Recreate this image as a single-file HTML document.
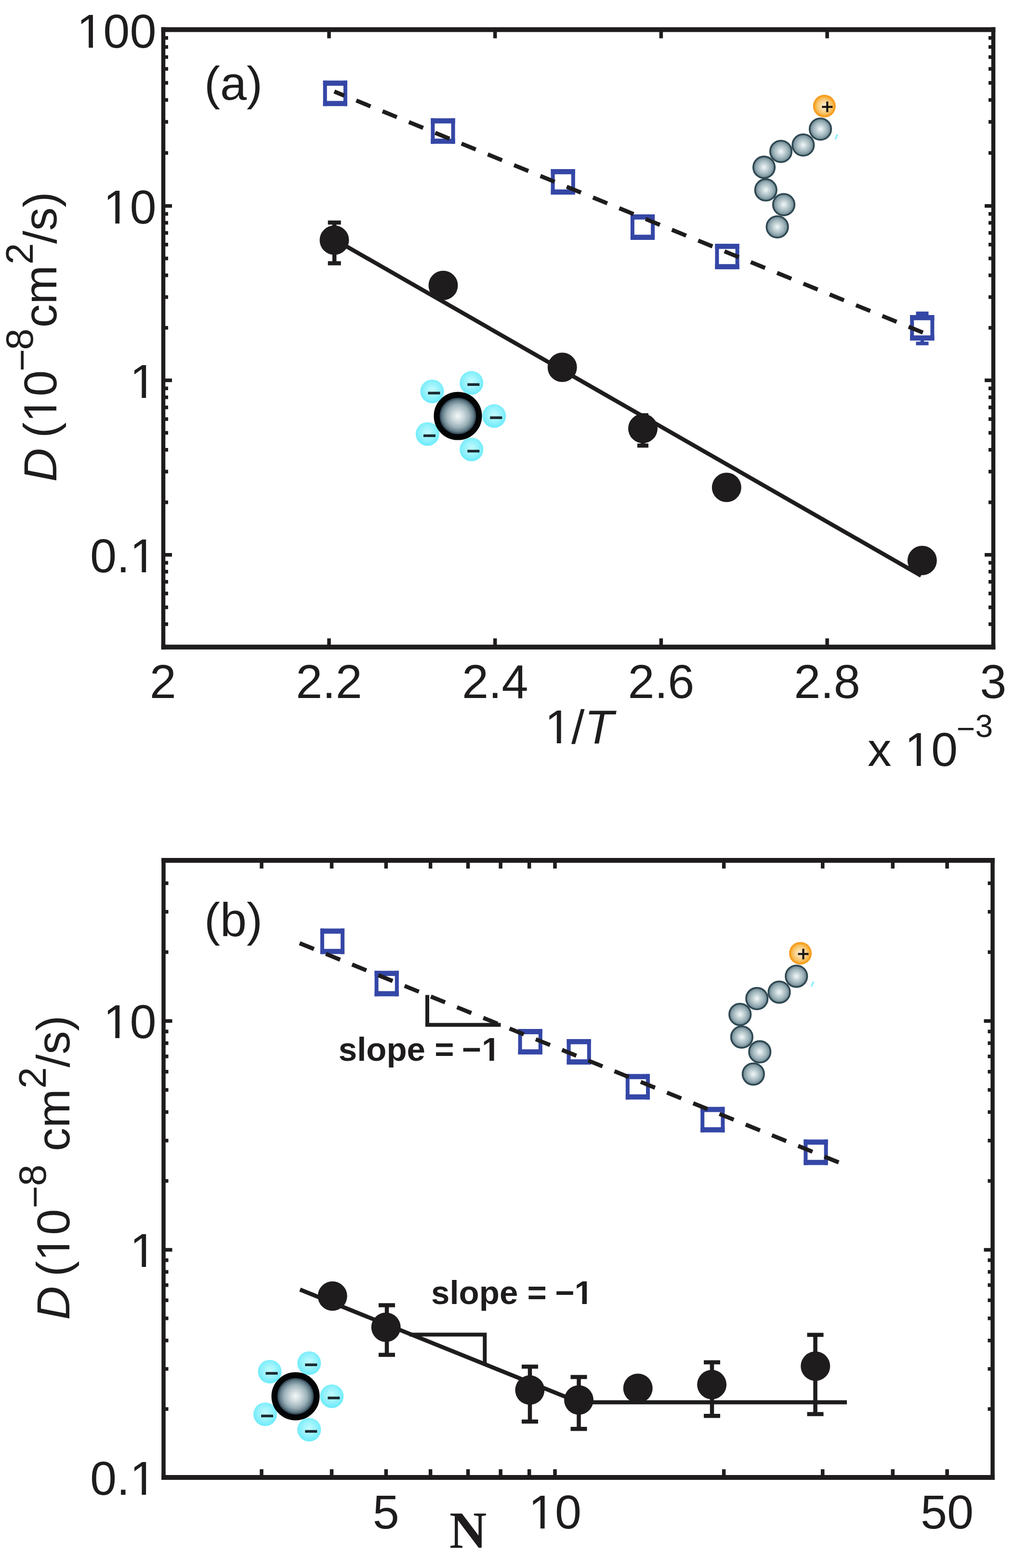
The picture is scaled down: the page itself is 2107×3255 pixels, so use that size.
<!DOCTYPE html>
<html><head><meta charset="utf-8"><title>Diffusion coefficient plots</title>
<style>html,body{margin:0;padding:0;background:#fff;}svg{display:block;}</style>
</head><body>
<svg width="2107" height="3255" viewBox="0 0 2107 3255">
<defs>
<radialGradient id="gBead" cx="50%" cy="50%" r="50%">
  <stop offset="0" stop-color="#f3f8f8"/>
  <stop offset="0.3" stop-color="#cbd9dc"/>
  <stop offset="0.65" stop-color="#9fb4bb"/>
  <stop offset="0.88" stop-color="#7b939d"/>
  <stop offset="1" stop-color="#5a7380"/>
</radialGradient>
<radialGradient id="gOrange" cx="50%" cy="50%" r="50%">
  <stop offset="0" stop-color="#fdf0d8"/>
  <stop offset="0.45" stop-color="#f9d490"/>
  <stop offset="0.72" stop-color="#f8bd58"/>
  <stop offset="0.88" stop-color="#f7a224"/>
  <stop offset="1" stop-color="#f69512"/>
</radialGradient>
<radialGradient id="gSphere" cx="50%" cy="50%" r="50%">
  <stop offset="0" stop-color="#f6f9f9"/>
  <stop offset="0.3" stop-color="#c8d5d9"/>
  <stop offset="0.55" stop-color="#9ab0b8"/>
  <stop offset="0.75" stop-color="#617a86"/>
  <stop offset="0.88" stop-color="#1e3341"/>
  <stop offset="1" stop-color="#040a10"/>
</radialGradient>
<radialGradient id="gCyan" cx="50%" cy="45%" r="50%">
  <stop offset="0" stop-color="#c4fbff"/>
  <stop offset="0.6" stop-color="#97f2fb"/>
  <stop offset="1" stop-color="#72ecfb"/>
</radialGradient>
</defs>
<rect width="2107" height="3255" fill="#ffffff"/>
<path d="M339 56.5V1348.2M2062 56.5V1348.2" stroke="#1e1c1d" stroke-width="8.5" fill="none"/>
<path d="M334.75 61.5H2066.25M334.75 1343.2H2066.25" stroke="#1e1c1d" stroke-width="10.0" fill="none"/>
<path d="M683 1343.2v-18M683 61.5v18M1027.7 1343.2v-18M1027.7 61.5v18M1372.4 1343.2v-18M1372.4 61.5v18M1717.1 1343.2v-18M1717.1 61.5v18" stroke="#1e1c1d" stroke-width="7.5" fill="none"/>
<path d="M339 1151.7h18M2062 1151.7h-18M339 789.6h18M2062 789.6h-18M339 427.5h18M2062 427.5h-18" stroke="#1e1c1d" stroke-width="7.5" fill="none"/>
<path d="M339 1295.79h10M2062 1295.79h-10M339 1260.7h10M2062 1260.7h-10M339 1232.03h10M2062 1232.03h-10M339 1207.79h10M2062 1207.79h-10M339 1186.79h10M2062 1186.79h-10M339 1168.27h10M2062 1168.27h-10M339 1042.7h10M2062 1042.7h-10M339 978.93h10M2062 978.93h-10M339 933.69h10M2062 933.69h-10M339 898.6h10M2062 898.6h-10M339 869.93h10M2062 869.93h-10M339 845.69h10M2062 845.69h-10M339 824.69h10M2062 824.69h-10M339 806.17h10M2062 806.17h-10M339 680.6h10M2062 680.6h-10M339 616.83h10M2062 616.83h-10M339 571.59h10M2062 571.59h-10M339 536.5h10M2062 536.5h-10M339 507.83h10M2062 507.83h-10M339 483.59h10M2062 483.59h-10M339 462.59h10M2062 462.59h-10M339 444.07h10M2062 444.07h-10M339 317.47h10M2062 317.47h-10M339 253.11h10M2062 253.11h-10M339 207.45h10M2062 207.45h-10M339 172.03h10M2062 172.03h-10M339 143.09h10M2062 143.09h-10M339 118.62h10M2062 118.62h-10M339 97.42h10M2062 97.42h-10M339 78.72h10M2062 78.72h-10" stroke="#1e1c1d" stroke-width="7.5" fill="none"/>
<text x="324.5" y="98.5" font-size="99" text-anchor="end" font-family='"Liberation Sans", Arial, Helvetica, sans-serif' fill="#1e1c1d">100</text>
<path d="M165.36 100H184.22V90.3H165.36ZM192.97 100H211.05V90.3H192.97Z" fill="#ffffff"/>
<text x="324.5" y="464" font-size="99" text-anchor="end" font-family='"Liberation Sans", Arial, Helvetica, sans-serif' fill="#1e1c1d">10</text>
<path d="M220.42 465.5H239.28V455.8H220.42ZM248.03 465.5H266.11V455.8H248.03Z" fill="#ffffff"/>
<text x="324.5" y="826.1" font-size="99" text-anchor="end" font-family='"Liberation Sans", Arial, Helvetica, sans-serif' fill="#1e1c1d">1</text>
<path d="M275.48 827.6H294.34V817.9H275.48ZM303.09 827.6H321.17V817.9H303.09Z" fill="#ffffff"/>
<text x="324.5" y="1188.2" font-size="99" text-anchor="end" font-family='"Liberation Sans", Arial, Helvetica, sans-serif' fill="#1e1c1d">0.1</text>
<path d="M275.48 1189.7H294.34V1180H275.48ZM303.09 1189.7H321.17V1180H303.09Z" fill="#ffffff"/>
<text x="338.3" y="1449" font-size="99" text-anchor="middle" font-family='"Liberation Sans", Arial, Helvetica, sans-serif' fill="#1e1c1d">2</text>
<text x="683" y="1449" font-size="99" text-anchor="middle" font-family='"Liberation Sans", Arial, Helvetica, sans-serif' fill="#1e1c1d">2.2</text>
<text x="1027.7" y="1449" font-size="99" text-anchor="middle" font-family='"Liberation Sans", Arial, Helvetica, sans-serif' fill="#1e1c1d">2.4</text>
<text x="1372.4" y="1449" font-size="99" text-anchor="middle" font-family='"Liberation Sans", Arial, Helvetica, sans-serif' fill="#1e1c1d">2.6</text>
<text x="1717.1" y="1449" font-size="99" text-anchor="middle" font-family='"Liberation Sans", Arial, Helvetica, sans-serif' fill="#1e1c1d">2.8</text>
<text x="2061.8" y="1449" font-size="99" text-anchor="middle" font-family='"Liberation Sans", Arial, Helvetica, sans-serif' fill="#1e1c1d">3</text>
<text x="1131" y="1543" font-size="99" font-family='"Liberation Sans", Arial, sans-serif' fill="#1e1c1d">1/<tspan font-style="italic">T</tspan></text>
<path d="M1137.04 1544.5H1155.9V1534.8H1137.04ZM1164.64 1544.5H1182.73V1534.8H1164.64Z" fill="#ffffff"/>
<text x="1801" y="1590" font-size="99" font-family='"Liberation Sans", Arial, Helvetica, sans-serif' fill="#1e1c1d">x 10</text>
<path d="M1884.05 1591.5H1902.9V1581.8H1884.05ZM1911.65 1591.5H1929.73V1581.8H1911.65Z" fill="#ffffff"/>
<text x="1985.8" y="1534.5" font-size="66" font-family='"Liberation Sans", Arial, Helvetica, sans-serif' fill="#1e1c1d">−</text>
<text x="2024.5" y="1530" font-size="66" font-family='"Liberation Sans", Arial, Helvetica, sans-serif' fill="#1e1c1d">3</text>
<text x="424" y="207.3" font-size="99" font-family='"Liberation Sans", Arial, Helvetica, sans-serif' fill="#1e1c1d">(a)</text>
<text transform="translate(116.5 0) rotate(-90)" x="-1000.28" y="0" font-size="97" font-style="italic" font-family='"Liberation Sans", Arial, sans-serif' fill="#1e1c1d">D</text>
<text transform="translate(116.5 0) rotate(-90)" x="-909.02" y="0" font-size="97" font-family='"Liberation Sans", Arial, sans-serif' fill="#1e1c1d">(10</text>
<path transform="translate(116.5 0) rotate(-90)" d="M-870.82 1.5H-852.32V-8.05H-870.82ZM-843.75 1.5H-826V-8.05H-843.75Z" fill="#ffffff"/>
<text transform="translate(116.5 0) rotate(-90)" x="-770.95" y="-44" font-size="80" font-family='"Liberation Sans", Arial, sans-serif' fill="#1e1c1d">−</text>
<text transform="translate(116.5 0) rotate(-90)" x="-726.48" y="-49" font-size="80" font-family='"Liberation Sans", Arial, sans-serif' fill="#1e1c1d">8</text>
<text transform="translate(116.5 0) rotate(-90)" x="-680.12" y="0" font-size="97" font-family='"Liberation Sans", Arial, sans-serif' fill="#1e1c1d">cm</text>
<text transform="translate(116.5 0) rotate(-90)" x="-549.02" y="-49" font-size="80" font-family='"Liberation Sans", Arial, sans-serif' fill="#1e1c1d">2</text>
<text transform="translate(116.5 0) rotate(-90)" x="-506" y="0" font-size="97" font-family='"Liberation Sans", Arial, sans-serif' fill="#1e1c1d">/s)</text>
<path d="M694.2 462V546.5M680.7 462h27M680.7 546.5h27" stroke="#1e1c1d" stroke-width="8.5" fill="none"/>
<path d="M1334.5 862V925M1323 862h23M1323 925h23" stroke="#1e1c1d" stroke-width="8.5" fill="none"/>
<path d="M1914.5 650.5V659.4M1914.5 701.6V713M1901.5 650.5h26M1901.5 713h26" stroke="#3547a6" stroke-width="7.5" fill="none"/>
<circle cx="694" cy="498.5" r="30.5" fill="#1e1c1d"/>
<circle cx="920" cy="592.5" r="30.5" fill="#1e1c1d"/>
<circle cx="1167.2" cy="762.5" r="30.5" fill="#1e1c1d"/>
<circle cx="1334.5" cy="889.5" r="30.5" fill="#1e1c1d"/>
<circle cx="1508.3" cy="1011.8" r="30.5" fill="#1e1c1d"/>
<circle cx="1914.3" cy="1163.5" r="30.5" fill="#1e1c1d"/>
<path d="M674.7 167.2V220.2M716.9 167.2V220.2" stroke="#3547a6" stroke-width="8.0" fill="none"/>
<path d="M670.7 172.6H720.9M670.7 214.8H720.9" stroke="#3547a6" stroke-width="10.8" fill="none"/>
<path d="M898.4 245.5V298.5M940.6 245.5V298.5" stroke="#3547a6" stroke-width="8.0" fill="none"/>
<path d="M894.4 250.9H944.6M894.4 293.1H944.6" stroke="#3547a6" stroke-width="10.8" fill="none"/>
<path d="M1147.6 351V404M1189.8 351V404" stroke="#3547a6" stroke-width="8.0" fill="none"/>
<path d="M1143.6 356.4H1193.8M1143.6 398.6H1193.8" stroke="#3547a6" stroke-width="10.8" fill="none"/>
<path d="M1312.9 445V498M1355.1 445V498" stroke="#3547a6" stroke-width="8.0" fill="none"/>
<path d="M1308.9 450.4H1359.1M1308.9 492.6H1359.1" stroke="#3547a6" stroke-width="10.8" fill="none"/>
<path d="M1488.4 506V559M1530.6 506V559" stroke="#3547a6" stroke-width="8.0" fill="none"/>
<path d="M1484.4 511.4H1534.6M1484.4 553.6H1534.6" stroke="#3547a6" stroke-width="10.8" fill="none"/>
<path d="M1893.2 654V707M1935.4 654V707" stroke="#3547a6" stroke-width="8.0" fill="none"/>
<path d="M1889.2 659.4H1939.4M1889.2 701.6H1939.4" stroke="#3547a6" stroke-width="10.8" fill="none"/>
<path d="M694 190L1916 690.5" stroke="#1e1c1d" stroke-width="8.5" fill="none" stroke-dasharray="32 27" stroke-dashoffset="9.7"/>
<path d="M694 497L1912 1195" stroke="#1e1c1d" stroke-width="8.5" fill="none"/>
<circle cx="1613.6" cy="471" r="22.3" fill="url(#gBead)" stroke="#2f4852" stroke-width="3.6"/>
<circle cx="1627" cy="424.8" r="22.3" fill="url(#gBead)" stroke="#2f4852" stroke-width="3.6"/>
<circle cx="1589.7" cy="394.2" r="22.3" fill="url(#gBead)" stroke="#2f4852" stroke-width="3.6"/>
<circle cx="1586" cy="347.2" r="22.3" fill="url(#gBead)" stroke="#2f4852" stroke-width="3.6"/>
<circle cx="1621" cy="314.3" r="22.3" fill="url(#gBead)" stroke="#2f4852" stroke-width="3.6"/>
<circle cx="1667.3" cy="301" r="22.3" fill="url(#gBead)" stroke="#2f4852" stroke-width="3.6"/>
<circle cx="1703" cy="268" r="22.3" fill="url(#gBead)" stroke="#2f4852" stroke-width="3.6"/>
<circle cx="1711.3" cy="220.3" r="23.5" fill="url(#gOrange)"/>
<path d="M1738.5 279L1734 289.5" stroke="#8eeefa" stroke-width="3.5" fill="none"/>
<path d="M1706.3 221.8h22M1717.3 210.8v22" stroke="#1a1412" stroke-width="4.2" fill="none"/>
<circle cx="897" cy="812.5" r="24.5" fill="url(#gCyan)"/>
<path d="M888.5 816h25" stroke="#1b2a30" stroke-width="5.5" fill="none"/>
<circle cx="978.8" cy="794.8" r="24.5" fill="url(#gCyan)"/>
<path d="M970.3 798.3h25" stroke="#1b2a30" stroke-width="5.5" fill="none"/>
<circle cx="1025.8" cy="863.6" r="24.5" fill="url(#gCyan)"/>
<path d="M1017.3 867.1h25" stroke="#1b2a30" stroke-width="5.5" fill="none"/>
<circle cx="887.5" cy="901" r="24.5" fill="url(#gCyan)"/>
<path d="M879 904.5h25" stroke="#1b2a30" stroke-width="5.5" fill="none"/>
<circle cx="978.8" cy="933" r="24.5" fill="url(#gCyan)"/>
<path d="M970.3 936.5h25" stroke="#1b2a30" stroke-width="5.5" fill="none"/>
<circle cx="950.5" cy="863.6" r="44" fill="url(#gSphere)" stroke="#020406" stroke-width="12"/>
<path d="M339.5 1781V3072M2060.5 1781V3072" stroke="#1e1c1d" stroke-width="8.5" fill="none"/>
<path d="M335.25 1786H2064.75M335.25 3067H2064.75" stroke="#1e1c1d" stroke-width="10.0" fill="none"/>
<path d="M543 3067v-17M543 1786v17M688.52 3067v-17M688.52 1786v17M801.39 3067v-17M801.39 1786v17M893.61 3067v-17M893.61 1786v17M971.58 3067v-17M971.58 1786v17M1039.13 3067v-17M1039.13 1786v17M1098.7 3067v-17M1098.7 1786v17M1152 3067v-17M1152 1786v17M1502.61 3067v-17M1502.61 1786v17M1707.7 3067v-17M1707.7 1786v17M1853.22 3067v-17M1853.22 1786v17M1966.09 3067v-17M1966.09 1786v17" stroke="#1e1c1d" stroke-width="7.5" fill="none"/>
<path d="M339.5 2594.4h18M2060.5 2594.4h-18M339.5 2119.4h18M2060.5 2119.4h-18" stroke="#1e1c1d" stroke-width="7.5" fill="none"/>
<path d="M339.5 2925.08h10M2060.5 2925.08h-10M339.5 2841.77h10M2060.5 2841.77h-10M339.5 2782.67h10M2060.5 2782.67h-10M339.5 2736.82h10M2060.5 2736.82h-10M339.5 2699.36h10M2060.5 2699.36h-10M339.5 2667.68h10M2060.5 2667.68h-10M339.5 2640.25h10M2060.5 2640.25h-10M339.5 2616.05h10M2060.5 2616.05h-10M339.5 2451.41h10M2060.5 2451.41h-10M339.5 2367.77h10M2060.5 2367.77h-10M339.5 2308.42h10M2060.5 2308.42h-10M339.5 2262.39h10M2060.5 2262.39h-10M339.5 2224.78h10M2060.5 2224.78h-10M339.5 2192.98h10M2060.5 2192.98h-10M339.5 2165.43h10M2060.5 2165.43h-10M339.5 2141.13h10M2060.5 2141.13h-10M339.5 1976.41h10M2060.5 1976.41h-10M339.5 1892.77h10M2060.5 1892.77h-10M339.5 1833.42h10M2060.5 1833.42h-10" stroke="#1e1c1d" stroke-width="7.5" fill="none"/>
<text x="324.5" y="2155.1" font-size="99" text-anchor="end" font-family='"Liberation Sans", Arial, Helvetica, sans-serif' fill="#1e1c1d">10</text>
<path d="M220.42 2156.6H239.28V2146.9H220.42ZM248.03 2156.6H266.11V2146.9H248.03Z" fill="#ffffff"/>
<text x="324.5" y="2630.1" font-size="99" text-anchor="end" font-family='"Liberation Sans", Arial, Helvetica, sans-serif' fill="#1e1c1d">1</text>
<path d="M275.48 2631.6H294.34V2621.9H275.48ZM303.09 2631.6H321.17V2621.9H303.09Z" fill="#ffffff"/>
<text x="324.5" y="3103.2" font-size="99" text-anchor="end" font-family='"Liberation Sans", Arial, Helvetica, sans-serif' fill="#1e1c1d">0.1</text>
<path d="M275.48 3104.7H294.34V3095H275.48ZM303.09 3104.7H321.17V3095H303.09Z" fill="#ffffff"/>
<text x="801.39" y="3173" font-size="99" text-anchor="middle" font-family='"Liberation Sans", Arial, Helvetica, sans-serif' fill="#1e1c1d">5</text>
<text x="1152" y="3173" font-size="99" text-anchor="middle" font-family='"Liberation Sans", Arial, Helvetica, sans-serif' fill="#1e1c1d">10</text>
<path d="M1102.98 3174.5H1121.83V3164.8H1102.98ZM1130.58 3174.5H1148.66V3164.8H1130.58Z" fill="#ffffff"/>
<text x="1966.09" y="3173" font-size="99" text-anchor="middle" font-family='"Liberation Sans", Arial, Helvetica, sans-serif' fill="#1e1c1d">50</text>
<text x="933" y="3213" font-size="107" font-weight="bold" font-family='"Liberation Serif", "Times New Roman", Times, serif' fill="#1e1c1d">N</text>
<text x="424" y="1942.5" font-size="99" font-family='"Liberation Sans", Arial, Helvetica, sans-serif' fill="#1e1c1d">(b)</text>
<text transform="translate(144 0) rotate(-90)" x="-2739.98" y="0" font-size="97" font-style="italic" font-family='"Liberation Sans", Arial, sans-serif' fill="#1e1c1d">D</text>
<text transform="translate(144 0) rotate(-90)" x="-2650.02" y="0" font-size="97" font-family='"Liberation Sans", Arial, sans-serif' fill="#1e1c1d">(10</text>
<path transform="translate(144 0) rotate(-90)" d="M-2611.82 1.5H-2593.32V-8.05H-2611.82ZM-2584.75 1.5H-2567V-8.05H-2584.75Z" fill="#ffffff"/>
<text transform="translate(144 0) rotate(-90)" x="-2508.25" y="-44" font-size="80" font-family='"Liberation Sans", Arial, sans-serif' fill="#1e1c1d">−</text>
<text transform="translate(144 0) rotate(-90)" x="-2462.08" y="-49" font-size="80" font-family='"Liberation Sans", Arial, sans-serif' fill="#1e1c1d">8</text>
<text transform="translate(144 0) rotate(-90)" x="-2389.82" y="0" font-size="97" font-family='"Liberation Sans", Arial, sans-serif' fill="#1e1c1d">cm</text>
<text transform="translate(144 0) rotate(-90)" x="-2259.72" y="-49" font-size="80" font-family='"Liberation Sans", Arial, sans-serif' fill="#1e1c1d">2</text>
<text transform="translate(144 0) rotate(-90)" x="-2215.7" y="0" font-size="97" font-family='"Liberation Sans", Arial, sans-serif' fill="#1e1c1d">/s)</text>
<path d="M887 2065.5V2127.5H1039.5" stroke="#1e1c1d" stroke-width="8" fill="none" stroke-linejoin="miter"/>
<path d="M850 2770.4H1006.3V2833" stroke="#1e1c1d" stroke-width="8" fill="none" stroke-linejoin="miter"/>
<text x="702.79" y="2202.4" font-size="69" font-weight="bold" font-family='"Liberation Sans", Arial, Helvetica, sans-serif' fill="#1e1c1d">slope =</text>
<text x="958.82" y="2202.4" font-size="69" font-weight="bold" font-family='"Liberation Sans", Arial, Helvetica, sans-serif' fill="#1e1c1d">−</text>
<text x="1000" y="2202.4" font-size="69" font-weight="bold" font-family='"Liberation Sans", Arial, Helvetica, sans-serif' fill="#1e1c1d">1</text>
<path d="M1002.85 2203.9H1016.1V2194.56H1002.85ZM1025.57 2203.9H1037.95V2194.56H1025.57Z" fill="#ffffff"/>
<text x="895.09" y="2706.6" font-size="69" font-weight="bold" font-family='"Liberation Sans", Arial, Helvetica, sans-serif' fill="#1e1c1d">slope =</text>
<text x="1152.32" y="2706.6" font-size="69" font-weight="bold" font-family='"Liberation Sans", Arial, Helvetica, sans-serif' fill="#1e1c1d">−</text>
<text x="1192.4" y="2706.6" font-size="69" font-weight="bold" font-family='"Liberation Sans", Arial, Helvetica, sans-serif' fill="#1e1c1d">1</text>
<path d="M1195.25 2708.1H1208.5V2698.76H1195.25ZM1217.97 2708.1H1230.35V2698.76H1217.97Z" fill="#ffffff"/>
<path d="M803 2709.4V2812.5M786 2709.4h34M786 2812.5h34" stroke="#1e1c1d" stroke-width="8.5" fill="none"/>
<path d="M1100 2837V2951M1083 2837h34M1083 2951h34" stroke="#1e1c1d" stroke-width="8.5" fill="none"/>
<path d="M1201.5 2858.5V2966.2M1184.5 2858.5h34M1184.5 2966.2h34" stroke="#1e1c1d" stroke-width="8.5" fill="none"/>
<path d="M1478 2828V2939.3M1461 2828h34M1461 2939.3h34" stroke="#1e1c1d" stroke-width="8.5" fill="none"/>
<path d="M1692.5 2770.9V2935.5M1675.5 2770.9h34M1675.5 2935.5h34" stroke="#1e1c1d" stroke-width="8.5" fill="none"/>
<circle cx="690.2" cy="2690.5" r="30.5" fill="#1e1c1d"/>
<circle cx="801.2" cy="2755.2" r="30.5" fill="#1e1c1d"/>
<circle cx="1099.9" cy="2885.6" r="30.5" fill="#1e1c1d"/>
<circle cx="1201.5" cy="2906.2" r="30.5" fill="#1e1c1d"/>
<circle cx="1324.2" cy="2881.9" r="30.5" fill="#1e1c1d"/>
<circle cx="1477.6" cy="2874.3" r="30.5" fill="#1e1c1d"/>
<circle cx="1692.7" cy="2836" r="30.5" fill="#1e1c1d"/>
<path d="M668.9 1927.5V1980.5M711.1 1927.5V1980.5" stroke="#3547a6" stroke-width="8.0" fill="none"/>
<path d="M664.9 1932.9H715.1M664.9 1975.1H715.1" stroke="#3547a6" stroke-width="10.8" fill="none"/>
<path d="M781.6 2015.2V2068.2M823.8 2015.2V2068.2" stroke="#3547a6" stroke-width="8.0" fill="none"/>
<path d="M777.6 2020.6H827.8M777.6 2062.8H827.8" stroke="#3547a6" stroke-width="10.8" fill="none"/>
<path d="M1079.6 2136.1V2189.1M1121.8 2136.1V2189.1" stroke="#3547a6" stroke-width="8.0" fill="none"/>
<path d="M1075.6 2141.5H1125.8M1075.6 2183.7H1125.8" stroke="#3547a6" stroke-width="10.8" fill="none"/>
<path d="M1180.6 2156.9V2209.9M1222.8 2156.9V2209.9" stroke="#3547a6" stroke-width="8.0" fill="none"/>
<path d="M1176.6 2162.3H1226.8M1176.6 2204.5H1226.8" stroke="#3547a6" stroke-width="10.8" fill="none"/>
<path d="M1302.8 2229.5V2282.5M1345 2229.5V2282.5" stroke="#3547a6" stroke-width="8.0" fill="none"/>
<path d="M1298.8 2234.9H1349M1298.8 2277.1H1349" stroke="#3547a6" stroke-width="10.8" fill="none"/>
<path d="M1458.2 2297.8V2350.8M1500.4 2297.8V2350.8" stroke="#3547a6" stroke-width="8.0" fill="none"/>
<path d="M1454.2 2303.2H1504.4M1454.2 2345.4H1504.4" stroke="#3547a6" stroke-width="10.8" fill="none"/>
<path d="M1672.4 2365.5V2418.5M1714.6 2365.5V2418.5" stroke="#3547a6" stroke-width="8.0" fill="none"/>
<path d="M1668.4 2370.9H1718.6M1668.4 2413.1H1718.6" stroke="#3547a6" stroke-width="10.8" fill="none"/>
<path d="M622 1958L1741 2413" stroke="#1e1c1d" stroke-width="8.5" fill="none" stroke-dasharray="32 26.8"/>
<path d="M622.8 2677L1202 2911H1758" stroke="#1e1c1d" stroke-width="8.5" fill="none" stroke-linejoin="miter"/>
<circle cx="1563.8" cy="2229.6" r="22.3" fill="url(#gBead)" stroke="#2f4852" stroke-width="3.6"/>
<circle cx="1577.2" cy="2183.4" r="22.3" fill="url(#gBead)" stroke="#2f4852" stroke-width="3.6"/>
<circle cx="1539.9" cy="2152.8" r="22.3" fill="url(#gBead)" stroke="#2f4852" stroke-width="3.6"/>
<circle cx="1536.2" cy="2105.8" r="22.3" fill="url(#gBead)" stroke="#2f4852" stroke-width="3.6"/>
<circle cx="1571.2" cy="2072.9" r="22.3" fill="url(#gBead)" stroke="#2f4852" stroke-width="3.6"/>
<circle cx="1617.5" cy="2059.6" r="22.3" fill="url(#gBead)" stroke="#2f4852" stroke-width="3.6"/>
<circle cx="1653.2" cy="2026.6" r="22.3" fill="url(#gBead)" stroke="#2f4852" stroke-width="3.6"/>
<circle cx="1661.5" cy="1978.9" r="23.5" fill="url(#gOrange)"/>
<path d="M1688.7 2037.6L1684.2 2048.1" stroke="#8eeefa" stroke-width="3.5" fill="none"/>
<path d="M1656.5 1980.4h22M1667.5 1969.4v22" stroke="#1a1412" stroke-width="4.2" fill="none"/>
<circle cx="560" cy="2847.4" r="24.5" fill="url(#gCyan)"/>
<path d="M551.5 2850.9h25" stroke="#1b2a30" stroke-width="5.5" fill="none"/>
<circle cx="641.8" cy="2829.7" r="24.5" fill="url(#gCyan)"/>
<path d="M633.3 2833.2h25" stroke="#1b2a30" stroke-width="5.5" fill="none"/>
<circle cx="688.8" cy="2898.5" r="24.5" fill="url(#gCyan)"/>
<path d="M680.3 2902h25" stroke="#1b2a30" stroke-width="5.5" fill="none"/>
<circle cx="550.5" cy="2935.9" r="24.5" fill="url(#gCyan)"/>
<path d="M542 2939.4h25" stroke="#1b2a30" stroke-width="5.5" fill="none"/>
<circle cx="641.8" cy="2967.9" r="24.5" fill="url(#gCyan)"/>
<path d="M633.3 2971.4h25" stroke="#1b2a30" stroke-width="5.5" fill="none"/>
<circle cx="613.5" cy="2898.5" r="44" fill="url(#gSphere)" stroke="#020406" stroke-width="12"/>
</svg>
</body></html>
